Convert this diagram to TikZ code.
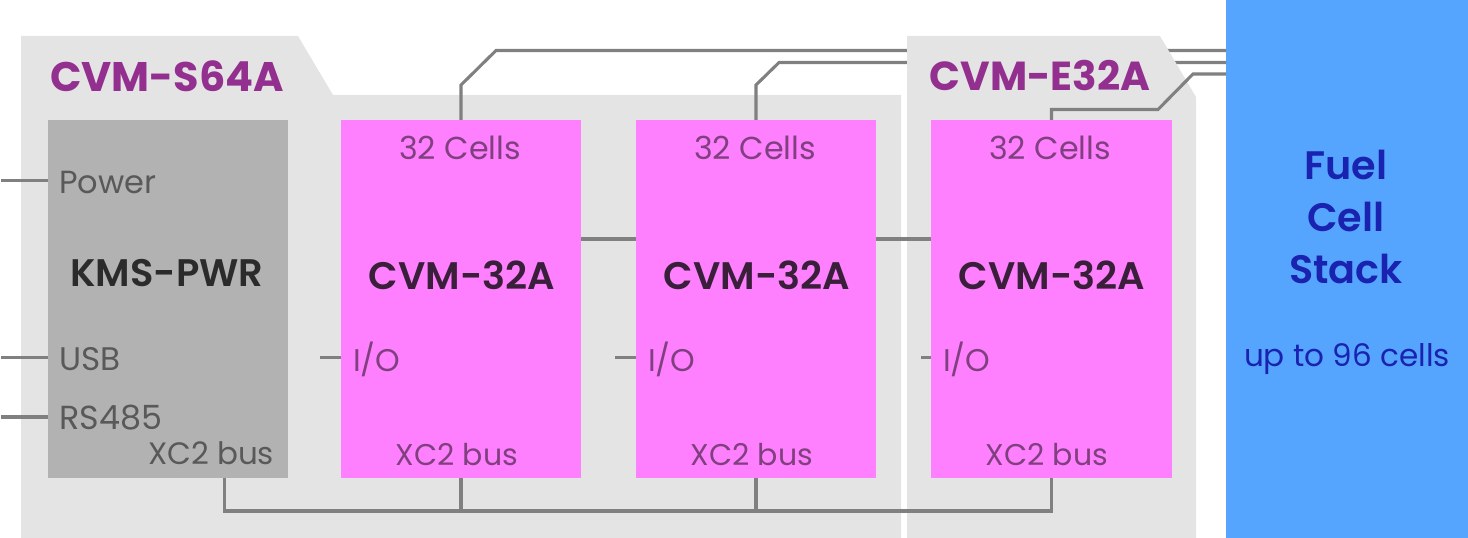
\documentclass[tikz,border=0pt]{standalone}
\usepackage{fontspec}
\setmainfont{Poppins}
\newfontfamily\pmed{Poppins SemiBold}
\definecolor{panel}{HTML}{E4E4E4}
\definecolor{kmsfill}{HTML}{B2B2B2}
\definecolor{cvmfill}{HTML}{FF80FF}
\definecolor{stackfill}{HTML}{55A5FF}
\definecolor{wire}{HTML}{808080}
\definecolor{titlec}{HTML}{93308F}
\definecolor{kmstext}{HTML}{595959}
\definecolor{cvmtext}{HTML}{80407F}
\definecolor{kmshead}{HTML}{2B2B2B}
\definecolor{cvmhead}{HTML}{3A1F3A}
\definecolor{stacktext}{HTML}{1A23B0}
\newcommand{\fsz}[1]{\fontsize{#1}{#1}\selectfont}
\tikzset{
  x=0.75pt,y=-0.75pt,
  boxnode/.style={draw=none,inner sep=0pt,outer sep=0pt,minimum width=180pt,minimum height=268.5pt,anchor=north west},
  kmsbox/.style={boxnode,fill=kmsfill},
  cvmbox/.style={boxnode,fill=cvmfill},
  wireline/.style={draw=wire,line width=2.3pt,line join=miter},
  title/.style={inner sep=0pt,text=titlec,font=\fsz{31}\bfseries},
  kmslabel/.style={inner sep=0pt,text=kmstext,font=\fsz{22.5}},
  cvmlabel/.style={inner sep=0pt,text=cvmtext,font=\fsz{22.5}},
  kmshd/.style={inner sep=0pt,text=kmshead,font=\pmed\fsz{28.8}},
  cvmhd/.style={inner sep=0pt,text=cvmhead,font=\pmed\fsz{28.8}},
  stackhd/.style={inner sep=0pt,text=stacktext,font=\pmed\fsz{29.8}},
  stacklb/.style={inner sep=0pt,text=stacktext,font=\fsz{23.3}},
}
\begin{document}
\begin{tikzpicture}
\useasboundingbox (0,0) rectangle (1468,538);
% boards and modules
\fill[panel] (21,36) -- (298,36) -- (333,95) -- (901,95) -- (901,538) -- (21,538) -- cycle;
\node[kmsbox] (kms) at (48,120) {};
\node[cvmbox] (c1) at (341,120) {};
\node[cvmbox] (c2) at (636,120) {};
\node[cvmbox,minimum width=180.75pt] (c3) at (931,120) {};
\node[fill=stackfill,inner sep=0pt,outer sep=0pt,minimum width=181.5pt,minimum height=403.5pt,anchor=north west] (stack) at (1226,0) {};
% free ends and bends
\coordinate (pwrfree) at (1,180.5);
\coordinate (usbfree) at (1,357.5);
\coordinate (rsfree) at (1,417);
\coordinate (pwrport) at (48,180.5);
\coordinate (usbport) at (48,357.5);
\coordinate (rsport) at (48,417);
\coordinate (kmsbus) at (224.5,478);
\coordinate (busleft) at (224.5,511);
\coordinate (busright) at (1051.5,511);
\coordinate (bus1) at (461,511);
\coordinate (bus2) at (756,511);
\coordinate (a1) at (461,85);
\coordinate (a2) at (496,50.5);
\coordinate (a3) at (1226,50.5);
\coordinate (b1) at (756,85);
\coordinate (b2) at (779,62.5);
\coordinate (b3) at (1226,62.5);
\coordinate (d1) at (1051.5,109.5);
\coordinate (d2) at (1158,109.5);
\coordinate (d3) at (1193,74);
\coordinate (d4) at (1226,74);
\coordinate (io1) at (320,357.5);
\coordinate (io2) at (615,357.5);
\coordinate (io3) at (921,357.5);
\coordinate (io1p) at (341,357.5);
\coordinate (io2p) at (636,357.5);
\coordinate (io3p) at (931,357.5);
\coordinate (l1) at (581,239);
\coordinate (l2) at (636,239);
\coordinate (l3) at (876,239);
\coordinate (l4) at (931,239);
% wires behind the second board
\draw[wireline] (c1.north) -- (a1) -- (a2) -- (a3);
\draw[wireline] (c2.north) -- (b1) -- (b2) -- (b3);
% second board
\fill[panel] (907,36) -- (1160,36) -- (1196,97) -- (1196,538) -- (907,538) -- cycle;
\node[cvmbox,minimum width=180.75pt] at (931,120) {};
% wires
\draw[wireline] (c3.north) -- (d1) -- (d2) -- (d3) -- (d4);
\draw[wireline] (pwrfree) -- (pwrport);
\draw[wireline] (usbfree) -- (usbport);
\draw[wireline] (rsfree) -- (rsport);
\draw[wireline] (kmsbus) -- (busleft) -- (busright) -- (c3.south);
\draw[wireline] (c1.south) -- (bus1);
\draw[wireline] (c2.south) -- (bus2);
\draw[wireline] (io1) -- (io1p);
\draw[wireline] (io2) -- (io2p);
\draw[wireline] (io3) -- (io3p);
\draw[wireline] (l1) -- (l2);
\draw[wireline] (l3) -- (l4);
% text
\node[title] (t1) at (167,76) {CVM-S64A};
\node[title,font=\fsz{30.4}\bfseries] (t2) at (1040,75) {CVM-E32A};
\node[kmslabel,anchor=west,font=\fsz{24}] (kp) at (59,182) {Power};
\node[kmslabel,anchor=west,font=\fsz{24.5}] (ku) at (59,359) {USB};
\node[kmslabel,anchor=west,font=\fsz{25}] (kr) at (59,418) {RS485};
\node[kmslabel,font=\fsz{23.2}] (kx) at (211,453) {XC2 bus};
\node[kmshd] (kh) at (167,273) {KMS-PWR};
\foreach \n/\x in {1/461,2/756,3/1051}{
  \node[cvmlabel,font=\fsz{23.8}] (cc\n) at (\x-1,148) {32 Cells};
  \node[cvmhd] (ch\n) at (\x+1,275) {CVM-32A};
  \node[cvmlabel] (cx\n) at (\x-4,455) {XC2 bus};
}
\node[cvmlabel,anchor=west,font=\fsz{23.5}] (ci1) at (353,359) {I/O};
\node[cvmlabel,anchor=west,font=\fsz{23.5}] (ci2) at (648,359) {I/O};
\node[cvmlabel,anchor=west,font=\fsz{23.5}] (ci3) at (943,359) {I/O};
\node[stackhd] (s1) at (1346,165) {Fuel};
\node[stackhd] (s2) at (1346,217) {Cell};
\node[stackhd] (s3) at (1346,269) {Stack};
\node[stacklb] (s4) at (1347,359) {up to 96 cells};
\end{tikzpicture}
\end{document}
